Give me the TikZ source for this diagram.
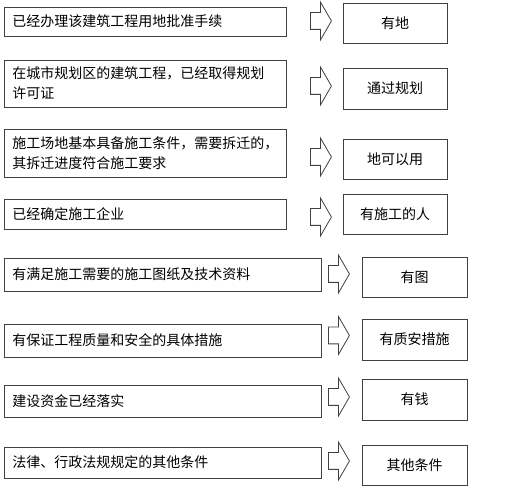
\documentclass[tikz,border=0pt]{standalone}
\usepackage{fontspec}
\setmainfont{Noto Sans CJK SC}
\usepackage{tikz}
\usetikzlibrary{shapes.arrows}

\begin{document}
\begin{tikzpicture}[x=1pt,y=-1pt,font=\fontsize{14}{20}\selectfont,
            cond/.style={rectangle,draw=black!75,line width=0.9pt,inner xsep=8pt,
            inner ysep=0pt,align=left,anchor=west,text width=266pt},
            condw/.style={cond,text width=301pt},
            res/.style={rectangle,draw=black!75,line width=0.9pt,minimum width=104pt,
            minimum height=40pt,align=center},
            blk/.style={single arrow,draw=black!75,line width=0.8pt,inner xsep=0pt,
            inner ysep=8pt,minimum height=21pt,single arrow head extend=10.5pt,
            single arrow tip angle=120}]
            \useasboundingbox (0,0) rectangle (515,497);
            % upper four rows
            \node[cond,minimum height=29pt] (c1) at (4,21.5) {已经办理该建筑工程用地批准手续};
            \node[cond,minimum height=47pt] (c2) at (4,83.5) {在城市规划区的建筑工程，已经取得规划\\许可证};
            \node[cond,minimum height=48pt] (c3) at (4,153) {施工场地基本具备施工条件，需要拆迁的，\\其拆迁进度符合施工要求};
            \node[cond,minimum height=30pt] (c4) at (4,214) {已经确定施工企业};
            \node[blk] (a1) at (318.5,21) {};
            \node[blk] (a2) at (318.5,86) {};
            \node[blk] (a3) at (318.5,157) {};
            \node[blk] (a4) at (318.5,217) {};
            \node[res] (r1) at (395,23) {有地};
            \node[res,minimum height=41pt] (r2) at (395,88.5) {通过规划};
            \node[res] (r3) at (395,159) {地可以用};
            \node[res] (r4) at (395,214) {有施工的人};
            % lower four rows
            \node[condw,minimum height=33pt] (c5) at (4,274.5) {有满足施工需要的施工图纸及技术资料};
            \node[condw,minimum height=33pt] (c6) at (4,340.5) {有保证工程质量和安全的具体措施};
            \node[condw,minimum height=32pt] (c7) at (4,401) {建设资金已经落实};
            \node[condw,minimum height=31pt] (c8) at (4,462.5) {法律、行政法规规定的其他条件};
            \node[blk] (a5) at (336.5,274) {};
            \node[blk] (a6) at (336.5,335.5) {};
            \node[blk] (a7) at (336.5,397) {};
            \node[blk] (a8) at (336.5,461) {};
            \node[res,minimum width=105pt] (r5) at (414.5,277) {有图};
            \node[res,minimum width=105pt,minimum height=41pt] (r6) at (414.5,339.5) {有质安措施};
            \node[res,minimum width=105pt,minimum height=41pt] (r7) at (414.5,399.5) {有钱};
            \node[res,minimum width=105pt] (r8) at (414.5,465) {其他条件};
\end{tikzpicture}
\end{document}
